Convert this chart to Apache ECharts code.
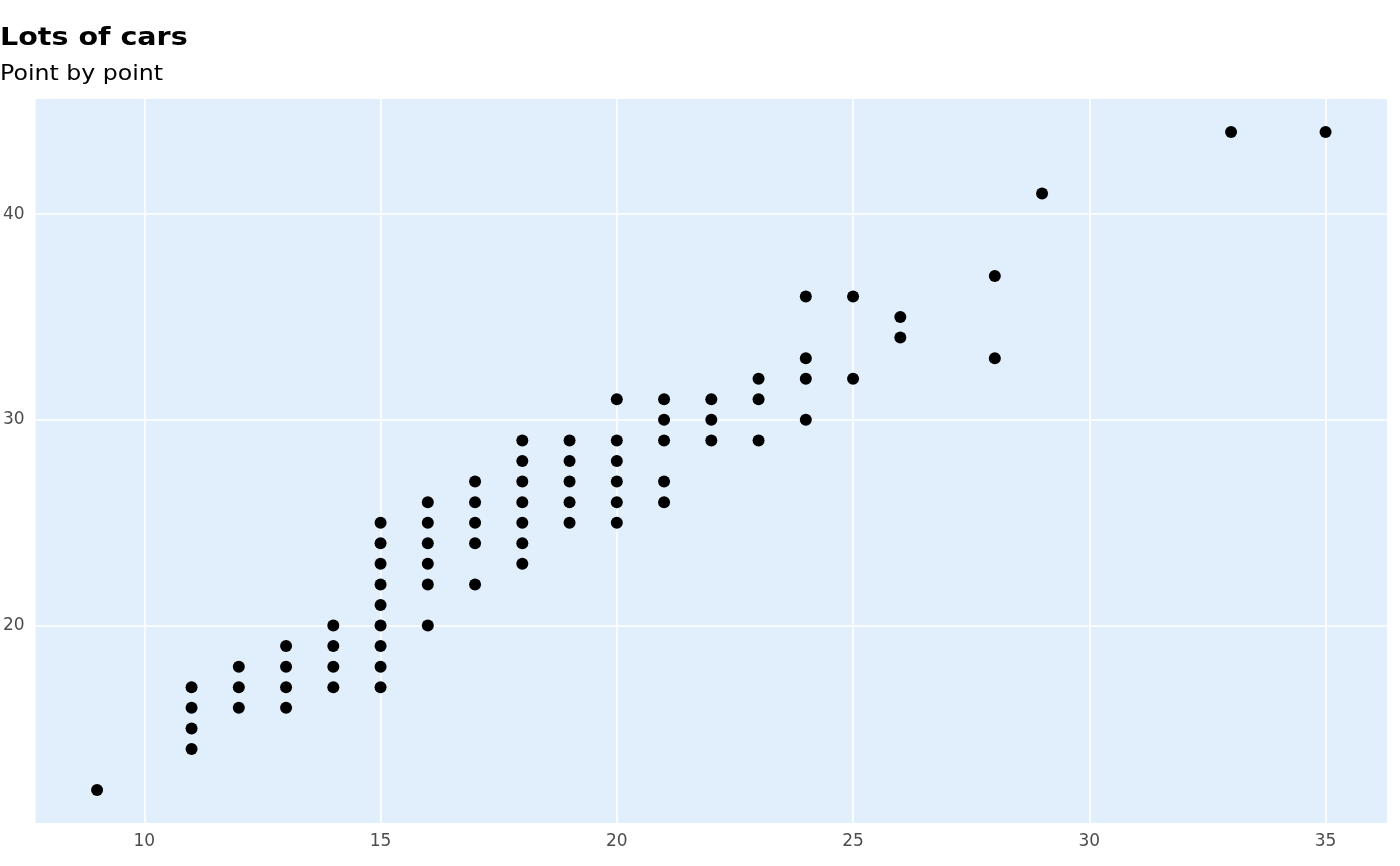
<!DOCTYPE html>
<html>
<head>
<meta charset="utf-8">
<script src="https://cdn.jsdelivr.net/npm/echarts@6/dist/echarts.min.js"></script>
<style>html,body{margin:0;padding:0;background:#fff;}#c{width:1400px;height:866px;}</style>
</head>
<body>
<div id="c"></div>
<script>
// city mpg (x) and highway mpg (y) pairs
const cty = [9, 11,11,11,11, 12,12,12, 13,13,13,13, 14,14,14,14,
  15,15,15,15,15,15,15,15,15, 16,16,16,16,16,16, 17,17,17,17,17,
  18,18,18,18,18,18,18, 19,19,19,19,19, 20,20,20,20,20,20,
  21,21,21,21,21, 22,22,22, 23,23,23, 24,24,24,24, 25,25, 26,26, 28,28, 29, 33, 35];
const hwy = [12, 17,16,15,14, 18,17,16, 19,18,17,16, 20,19,18,17,
  25,24,23,22,21,20,19,18,17, 26,25,24,23,22,20, 27,26,25,24,22,
  29,28,27,26,25,24,23, 29,28,27,26,25, 31,29,28,27,26,25,
  31,30,29,27,26, 31,30,29, 32,31,29, 36,33,32,30, 36,32, 35,34, 37,33, 41, 44, 44];
const xTicks = [10, 15, 20, 25, 30, 35];
const yTicks = [20, 30, 40];
const titleText = 'Lots of cars';
const subtitleText = 'Point by point';

const points = cty.map((v, i) => [v, hwy[i]]);
const chart = echarts.init(document.getElementById('c'), null, {renderer: 'canvas'});
const font = 'DejaVu Sans';
chart.setOption({
  animation: false,
  backgroundColor: '#ffffff',
  graphic: [
    {type: 'text', x: 0, y: 27, scaleX: 1.19, scaleY: 1, silent: true,
     style: {text: titleText, font: 'bold 24px "DejaVu Sans"', fill: '#000', verticalAlign: 'top'}},
    {type: 'text', x: 0, y: 63, scaleX: 1.075, scaleY: 1, silent: true,
     style: {text: subtitleText, font: 'normal 22px "DejaVu Sans"', fill: '#000', verticalAlign: 'top'}}
  ],
  grid: {left: 35, right: 13, top: 99, bottom: 43, containLabel: false,
         show: true, backgroundColor: '#E1EFFD', borderWidth: 0},
  xAxis: {
    type: 'value', min: 7.7, max: 36.3,
    axisLine: {show: false},
    axisTick: {show: false, customValues: xTicks},
    axisLabel: {customValues: xTicks, color: '#4d4d4d', fontFamily: font, fontSize: 17, margin: 10},
    splitLine: {show: true, lineStyle: {color: '#ffffff', width: 1.6}}
  },
  yAxis: {
    type: 'value', min: 10.4, max: 45.6,
    axisLine: {show: false},
    axisTick: {show: false, customValues: yTicks},
    axisLabel: {customValues: yTicks, color: '#4d4d4d', fontFamily: font, fontSize: 17, margin: 11},
    splitLine: {show: true, lineStyle: {color: '#ffffff', width: 1.6}}
  },
  series: [{
    type: 'scatter', data: points, symbol: 'circle', symbolSize: 12,
    itemStyle: {color: '#000000', opacity: 1}
  }]
});
</script>
</body>
</html>
